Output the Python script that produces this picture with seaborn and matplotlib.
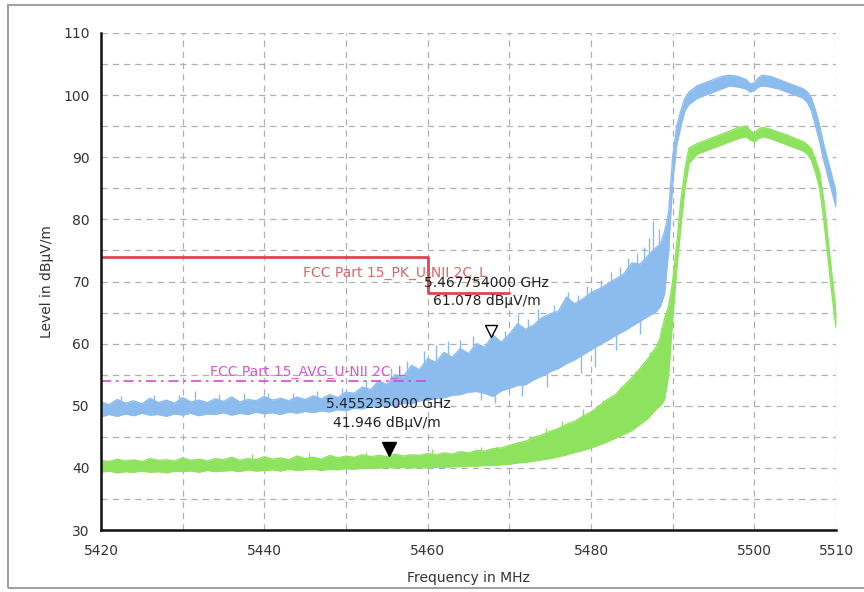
import numpy as np
import pandas as pd
import matplotlib
matplotlib.use("Agg")
import matplotlib.pyplot as plt
from matplotlib.patches import Rectangle
import seaborn as sns

# ---- sweep frequencies (MHz) ----
freq = list(range(5420, 5489)) + [
    5488.5, 5489, 5489.5, 5490, 5490.5, 5491, 5491.5, 5492, 5493, 5494, 5495,
    5496, 5497, 5498, 5499, 5499.5, 5500, 5500.5, 5501, 5502, 5503, 5504, 5505,
    5506, 5506.5, 5507, 5507.5, 5508, 5508.5, 5509, 5509.5, 5510]

# ---- peak detector trace: lower / upper envelope (dBuV/m) ----
pk_lo = [
    48.2, 48.6, 48.3, 48.7, 48.4, 48.8, 48.5, 48.6, 48.3, 48.7,
    48.5, 48.8, 48.4, 48.7, 48.6, 48.9, 48.5, 48.8, 48.6, 49.0,
    48.7, 48.9, 48.6, 49.0, 48.8, 49.1, 48.9, 49.2, 49.0, 49.4,
    49.2, 49.6, 49.5, 49.9, 49.8, 50.1, 50.0, 50.4, 50.3, 50.8,
    50.9, 51.2, 51.3, 51.7, 51.8, 52.2, 52.3, 52.0, 51.5, 52.4,
    52.8, 53.3, 53.4, 54.2, 54.8, 55.5, 56.0, 56.8, 57.4, 58.2,
    59.0, 59.8, 60.5, 61.3, 62.0, 62.8, 63.6, 64.4, 65.2,
    66, 68, 75, 86, 92, 95, 97.5, 98.5, 99.5, 100, 100.5,
    101, 101.5, 101.3, 101, 100.5, 100.8, 101.3, 101.5, 101.3, 101, 100.5,
    100, 99.5, 98.8, 97.5, 95, 92.5, 89.5, 87, 84.5, 82]
pk_hi = [
    50.6, 50.2, 51.0, 50.4, 50.8, 50.3, 51.2, 50.5, 50.9, 50.4,
    51.3, 50.6, 50.9, 50.5, 51.1, 50.7, 51.4, 50.6, 51.0, 50.8,
    51.5, 50.9, 51.2, 50.8, 51.4, 51.0, 51.6, 51.1, 51.8, 51.3,
    52.2, 52.0, 53.0, 52.6, 54.0, 53.4, 55.0, 54.6, 56.5, 55.8,
    57.6, 57.0, 58.6, 57.8, 59.2, 58.4, 60.0, 59.4, 61.4, 60.2,
    61.5, 63.2, 62.3, 63.0, 64.2, 64.8, 65.2, 67.5, 66.4, 67.2,
    68.2, 68.8, 69.6, 70.4, 71.2, 73.0, 72.8, 74.2, 75.5,
    76, 78, 81, 90, 95, 97.5, 99.5, 100.5, 101.5, 102, 102.5,
    103, 103.2, 103, 102.5, 101.8, 102, 102.8, 103.2, 103, 102.5, 102,
    101.5, 101, 100.5, 99.5, 97.5, 95, 92, 89.5, 87, 84.5]

# ---- average detector trace: lower / upper envelope (dBuV/m) ----
av_lo = [
    39.3, 39.5, 39.2, 39.4, 39.3, 39.5, 39.3, 39.4, 39.2, 39.5,
    39.4, 39.5, 39.3, 39.6, 39.4, 39.5, 39.6, 39.4, 39.7, 39.5,
    39.6, 39.7, 39.5, 39.8, 39.6, 39.7, 39.8, 39.6, 39.8, 39.7,
    39.9, 39.8, 40.0, 39.9, 40.0, 40.1, 40.0, 40.1, 40.0, 40.1,
    40.0, 40.1, 40.1, 40.2, 40.2, 40.3, 40.3, 40.4, 40.4, 40.5,
    40.6, 40.8, 40.9, 41.1, 41.3, 41.5, 41.8, 42.1, 42.5, 42.8,
    43.2, 43.7, 44.2, 44.8, 45.4, 46.0, 47.0, 48.0, 49.5,
    50, 51, 55, 64, 72, 79, 85, 89, 90.5, 91, 91.5,
    92, 92.5, 93, 93.3, 92.8, 92.5, 93, 93.3, 93, 92.5, 92,
    91.5, 91, 90.5, 89.5, 87.5, 85, 80, 74, 68, 62.5]
av_hi = [
    41.2, 41.0, 41.4, 41.1, 41.3, 41.0, 41.5, 41.2, 41.3, 41.1,
    41.6, 41.2, 41.4, 41.1, 41.5, 41.3, 41.7, 41.2, 41.5, 41.3,
    41.8, 41.4, 41.6, 41.3, 41.9, 41.5, 41.7, 41.4, 42.0, 41.6,
    41.9, 41.7, 42.1, 41.8, 42.0, 41.8, 42.2, 41.9, 42.1, 42.0,
    42.3, 42.1, 42.4, 42.2, 42.6, 42.4, 42.8, 42.7, 43.1, 43.2,
    43.6, 44.0, 44.3, 44.9, 45.3, 45.9, 46.3, 47.0, 47.5, 48.3,
    49.0, 50.0, 51.0, 51.8, 53.2, 54.5, 56.0, 57.6, 59.5,
    61, 64, 66, 70, 76, 83, 88, 91.5, 92.2, 92.7, 93.2,
    93.7, 94.2, 94.8, 95, 94.3, 93.8, 94.5, 94.8, 94.5, 94, 93.6,
    93, 92.5, 92, 91.3, 89.5, 87.5, 83, 77, 71, 65]

# ---- isolated noise spikes on the traces ----
pk_spike_freq = [5422.5, 5426.5, 5429.5, 5431.5, 5434.5, 5437.5, 5440.5, 5443.5,
                 5446.5, 5449.5, 5452.5, 5455.5, 5457.5, 5459.5, 5461.0, 5462.5,
                 5464.0, 5465.5, 5467.75, 5469.5, 5471.0, 5472.3, 5473.5, 5475.5,
                 5477.2, 5478.4, 5479.5, 5481.2, 5482.5, 5483.6, 5484.5, 5485.6,
                 5486.5, 5487.1, 5487.6, 5488.3]
pk_spike_top = [51.6, 51.8, 51.7, 52.3, 51.9, 52.0, 52.1, 52.0,
                52.3, 52.8, 54.2, 56.0, 57.2, 58.8, 59.8, 60.5,
                60.6, 61.2, 61.1, 62.0, 64.8, 64.0, 65.5, 66.2,
                68.3, 67.9, 69.3, 70.2, 71.5, 72.4, 73.8, 74.6,
                75.5, 77.0, 79.8, 78.5]
pk_dip_freq = [5461.5, 5466.5, 5468.2, 5471.6, 5474.6, 5478.8, 5480.5, 5483.0, 5486.0]
pk_dip_bottom = [50.2, 51.0, 50.4, 51.5, 53.0, 55.2, 56.2, 59.0, 61.5]
av_spike_freq = [5438.5, 5445.5, 5452.5, 5460.5, 5466.5, 5468.5, 5472.5, 5474.5,
                 5476.5, 5479.0, 5481.5, 5483.5, 5485.5, 5487.2, 5488.6]
av_spike_top = [42.2, 42.4, 42.6, 43.0, 43.4, 43.6, 45.2, 46.4,
                47.6, 49.4, 51.0, 53.0, 55.6, 58.6, 62.5]

# ---- limit lines ----
lim_pk_freq = [5420, 5460, 5460, 5470]
lim_pk_level = [74.0, 74.0, 68.2, 68.2]
lim_av_freq = [5420, 5460]
lim_av_level = [54.0, 54.0]

# ---- markers ----
m1_freq, m1_level = 5467.754, 61.078
m2_freq, m2_level = 5455.235, 41.946

x_ticks = list(range(5420, 5511, 10))
x_labels = ["5420", "", "5440", "", "5460", "", "5480", "", "5500", "5510"]
y_ticks = list(range(30, 111, 5))
y_labels = [str(v) if v % 10 == 0 else "" for v in y_ticks]

BLUE = "#8cbcee"
GREEN = "#8ee35e"
RED = "#d9484e"
MAGENTA = "#d449d4"

sns.set_theme(style="white")
plt.rcParams["font.family"] = ["DejaVu Sans"]

W, H = 864, 592
fig = plt.figure(figsize=(W / 100, H / 100), dpi=100)
ax_l, ax_r, ax_t, ax_b = 101, 836, 33, 530
ax = fig.add_axes([ax_l / W, 1 - ax_b / H, (ax_r - ax_l) / W, (ax_b - ax_t) / H])
ax.set_facecolor("white")

df = pd.DataFrame({"freq": freq, "pk_lo": pk_lo, "pk_hi": pk_hi,
                   "av_lo": av_lo, "av_hi": av_hi})

# peak trace
ax.fill_between(df["freq"], df["pk_lo"], df["pk_hi"], color=BLUE, lw=0, zorder=2)
for col in ("pk_lo", "pk_hi"):
    sns.lineplot(data=df, x="freq", y=col, ax=ax, color=BLUE, lw=1.0,
                 estimator=None, zorder=2)
ax.vlines(pk_spike_freq, np.interp(pk_spike_freq, freq, pk_hi) - 1, pk_spike_top,
          color=BLUE, lw=1.0, zorder=2)
ax.vlines(pk_dip_freq, pk_dip_bottom, np.interp(pk_dip_freq, freq, pk_lo) + 1,
          color=BLUE, lw=1.0, zorder=2)

# average trace
ax.fill_between(df["freq"], df["av_lo"], df["av_hi"], color=GREEN, lw=0, zorder=3)
for col in ("av_lo", "av_hi"):
    sns.lineplot(data=df, x="freq", y=col, ax=ax, color=GREEN, lw=1.0,
                 estimator=None, zorder=3)
ax.vlines(av_spike_freq, np.interp(av_spike_freq, freq, av_hi) - 1, av_spike_top,
          color=GREEN, lw=1.0, zorder=3)

# limit lines
sns.lineplot(x=lim_pk_freq, y=lim_pk_level, ax=ax, sort=False, estimator=None,
             color=RED, lw=2.0, zorder=4)
sns.lineplot(x=lim_av_freq, y=lim_av_level, ax=ax, sort=False, estimator=None,
             color=MAGENTA, lw=1.2, zorder=4)
ax.lines[-1].set_dashes([6, 3, 1.5, 3])

ax.text(5444.7, 71.4, "FCC Part 15_PK_U-NII 2C_L", color="#d86666", fontsize=10,
        ha="left", va="center", zorder=5)
ax.text(5433.3, 55.4, "FCC Part 15_AVG_U-NII 2C_L", color="#d458d4", fontsize=10,
        ha="left", va="center", zorder=5)

# markers (apex of the triangle sits on the marker level)
ax.plot([m1_freq], [m1_level], marker="v", ms=9, mfc="white", mec="black", mew=1.0,
        ls="none", zorder=6, transform=ax.transData
        + matplotlib.transforms.ScaledTranslation(0, 4.5 / 72, fig.dpi_scale_trans))
ax.plot([m2_freq], [m2_level], marker="v", ms=10, mfc="black", mec="black", mew=1.0,
        ls="none", zorder=6, transform=ax.transData
        + matplotlib.transforms.ScaledTranslation(0, 5 / 72, fig.dpi_scale_trans))

txt_kw = dict(textcoords="offset points", ha="center", va="center",
              fontsize=10, color="#222222", zorder=7)
ax.annotate(f"{m1_freq / 1000:.9f} GHz", (m1_freq, m1_level), xytext=(-3, 39), **txt_kw)
ax.annotate(f"{m1_level:.3f} dBµV/m", (m1_freq, m1_level), xytext=(-3, 26), **txt_kw)
ax.annotate(f"{m2_freq / 1000:.9f} GHz", (m2_freq, m2_level), xytext=(0, 37), **txt_kw)
ax.annotate(f"{m2_level:.3f} dBµV/m", (m2_freq, m2_level), xytext=(-1.5, 23.5), **txt_kw)

# axes styling
ax.set_xlim(5420, 5510)
ax.set_ylim(30, 110)
ax.set_xticks(x_ticks)
ax.set_xticklabels(x_labels)
ax.set_yticks(y_ticks)
ax.set_yticklabels(y_labels)
ax.grid(True, color="#b0b0b0", lw=0.9, ls=(0, (5, 4)))
ax.set_axisbelow(True)
for side in ("top", "right"):
    ax.spines[side].set_visible(False)
for side in ("left", "bottom"):
    ax.spines[side].set_color("#111111")
    ax.spines[side].set_linewidth(1.8)
    ax.spines[side].set_zorder(8)
ax.tick_params(axis="both", direction="inout", length=8, width=1.6, color="#111111",
               labelsize=10, labelcolor="#333333")
ax.tick_params(axis="x", pad=6)
ax.tick_params(axis="y", pad=4)

ax.set_xlabel("Frequency in MHz", fontsize=10, color="#333333")
ax.set_ylabel("Level in dBµV/m", fontsize=10, color="#333333")
ax.xaxis.label.set_va("center")
ax.yaxis.label.set_va("center")
ax.xaxis.set_label_coords(0.5, (ax_b - 578) / (ax_b - ax_t))
ax.yaxis.set_label_coords((47 - ax_l) / (ax_r - ax_l), 0.5)

# window frame
fig.patches.append(Rectangle((8 / W, 1 - 588 / H), 1.2, (588 - 5) / H,
                             transform=fig.transFigure, fill=False,
                             edgecolor="#a0a0a0", lw=1.5, clip_on=False))

fig.savefig("out.png", dpi=100, facecolor="white")
